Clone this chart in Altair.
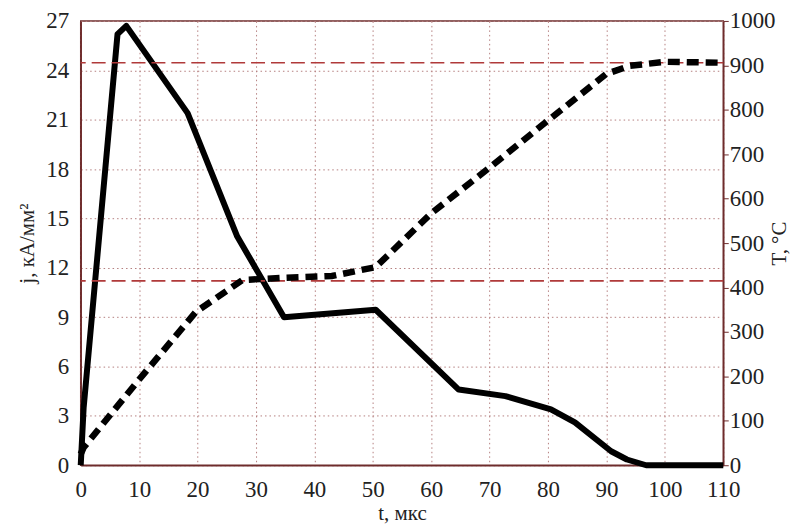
import altair as alt
import pandas as pd

# current density j (kA/mm^2) vs time t (us)
t_j = [0, 0.5, 6.3, 7.8, 18.3, 26.8, 34.8, 50.5, 64.7, 72.7, 80.5, 84.6, 90.8, 93.5, 96.8, 110]
j_vals = [0, 3.5, 26.2, 26.7, 21.4, 13.9, 9.0, 9.45, 4.6, 4.2, 3.4, 2.6, 0.85, 0.35, 0, 0]

# temperature T (°C) vs time t (us)
t_T = [0, 0.5, 10, 19.7, 27.7, 35, 43, 50.5, 60, 70, 80, 90, 94, 100, 110]
T_vals = [25, 40, 193, 345, 417, 422, 426, 446, 567, 670, 776, 881, 899, 908, 906]

# reference temperature levels (°C)
ref_T = [906, 415]

x_ticks = list(range(0, 111, 10))
j_ticks = list(range(0, 28, 3))
T_ticks = list(range(0, 1001, 100))

df_j = pd.DataFrame({"t": t_j, "j": j_vals})
df_T = pd.DataFrame({"t": t_T, "T": T_vals})
df_ref = pd.DataFrame({"T": ref_T})

FONT = "Liberation Serif"
AXC = "#6e2c2c"
GRID = "#b58080"
TXT = "#222222"

common = dict(
    labelFont=FONT, titleFont=FONT, labelFontSize=23, titleFontSize=21,
    labelColor=TXT, titleColor=TXT, titleFontWeight="normal",
    domainColor=AXC, domainWidth=1.5, format="d", labelFlush=False,
)

x_enc = alt.X(
    "t:Q",
    scale=alt.Scale(domain=[0, 110], nice=False),
    axis=alt.Axis(
        values=x_ticks, title="t, мкс", grid=True, gridColor=GRID,
        gridDash=[1.5, 3], gridWidth=1, gridOpacity=1,
        ticks=False, labelPadding=13, titlePadding=1, **common,
    ),
)

j_line = alt.Chart(df_j).mark_line(color="black", strokeWidth=6, strokeJoin="round").encode(
    x=x_enc,
    y=alt.Y(
        "j:Q",
        scale=alt.Scale(domain=[0, 27], nice=False),
        axis=alt.Axis(
            values=j_ticks, title="j, кА/мм²", grid=True, gridColor=GRID,
            gridDash=[1.5, 3], gridWidth=1, gridOpacity=1,
            ticks=False, labelPadding=12, titlePadding=8, orient="left", **common,
        ),
    ),
    order="t:Q",
)

T_axis = alt.Axis(
    values=T_ticks, title="T, °C", grid=False, orient="right",
    ticks=True, tickSize=5, tickColor=AXC, labelPadding=1,
    titleAngle=270, titleX=56, titleY=223, titleAlign="center", titleBaseline="middle",
    **common,
)
T_scale = alt.Scale(domain=[0, 1000], nice=False)

T_line = alt.Chart(df_T).mark_line(color="black", strokeWidth=6.5, strokeDash=[12, 7]).encode(
    x=alt.X("t:Q"),
    y=alt.Y("T:Q", scale=T_scale, axis=T_axis),
    order="t:Q",
)

ref_rules = alt.Chart(df_ref).mark_rule(color="#b03a3a", strokeWidth=1.6, strokeDash=[14, 6]).encode(
    y=alt.Y("T:Q", scale=T_scale, axis=T_axis),
)

right = alt.layer(ref_rules, T_line)

chart = alt.layer(j_line, right).resolve_scale(y="independent").properties(
    width=645, height=446,
    autosize=alt.AutoSizeParams(type="none"),
    padding={"left": 73, "top": 12, "right": 70, "bottom": 63},
    background="white",
).configure_view(stroke=AXC, strokeWidth=1.5)

chart.save("out.html", embed_options={"renderer": "svg", "actions": False})
